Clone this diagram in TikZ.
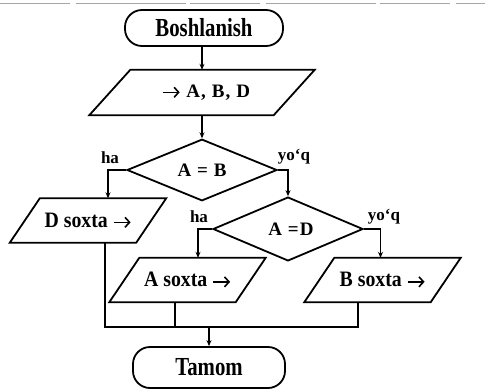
\documentclass[tikz,border=0pt]{standalone}
\usepackage{fontspec}
\setmainfont{Liberation Serif}
\newfontfamily\termfont{Liberation Serif}[FakeStretch=0.8]
\newfontfamily\outfont{Liberation Serif}[FakeStretch=0.9]
\newfontfamily\wideserif{Liberation Serif}[LetterSpace=6]
\usetikzlibrary{shapes.geometric,arrows.meta,calc}
\newcommand{\txtArrow}{\tikz[baseline={(0pt,-5pt)}]\draw[line width=1.6pt,-{Straight Barb[length=4.5pt,width=10pt,line width=1.6pt]}] (0pt,0pt) -- (17pt,0pt);}
\begin{document}
\begin{tikzpicture}[x=1pt,y=-1pt,
  line width=1.8pt,
  term/.style={draw, rounded corners=17pt, inner sep=0pt, font=\termfont\bfseries\fontsize{26}{28}\selectfont},
  pgbox/.style={minimum width=126pt, minimum height=44pt, inner sep=0pt, font=\outfont\bfseries\fontsize{22}{24}\selectfont},
  inbox/.style={minimum width=184pt, minimum height=45pt, inner sep=0pt, font=\wideserif\bfseries\fontsize{19}{21}\selectfont},
  dec/.style={draw, diamond, inner sep=0pt, minimum width=150pt, minimum height=60pt, font=\wideserif\bfseries\fontsize{19}{21}\selectfont},
  lbl/.style={inner sep=0pt, font=\bfseries\fontsize{17}{19}\selectfont},
  arr/.style={-{Stealth[length=6pt,width=5pt]}, line width=1.5pt},
  scanline/.style={draw=gray!70, line width=1pt, dash pattern=on 70pt off 6pt on 110pt off 4pt}
]
\useasboundingbox (0,0) rectangle (485,391);
\draw[scanline] (0,3) -- (485,3);

% terminals
\node[term, minimum width=158pt, minimum height=36pt] (start) at (204,28) {Boshlanish};
\node[term, minimum width=152pt, minimum height=41pt] (end) at (209,367.5) {Tamom};

% input parallelogram
\node[inbox] (in) at (202,92.5) {\hspace{8pt}\txtArrow\ A, B, D};
\draw ([xshift=-20.5pt]in.south west) -- ([xshift=-20.5pt]in.south east) -- ([xshift=20.5pt]in.north east) -- ([xshift=20.5pt]in.north west) -- cycle;

% decisions
\node[dec] (d1) at (202,170) {A = B};
\node[dec, minimum height=62pt] (d2) at (288,229) {\hspace{6pt}A =D};

% output parallelograms
\node[pgbox] (D) at (88,220.5) {D soxta \txtArrow};
\draw ([xshift=-15pt]D.south west) -- ([xshift=-15pt]D.south east) -- ([xshift=15pt]D.north east) -- ([xshift=15pt]D.north west) -- cycle;
\node[pgbox] (A) at (187.5,280) {A soxta \txtArrow};
\draw ([xshift=-15pt]A.south west) -- ([xshift=-15pt]A.south east) -- ([xshift=15pt]A.north east) -- ([xshift=15pt]A.north west) -- cycle;
\node[pgbox] (B) at (382.5,280) {B soxta \txtArrow};
\draw ([xshift=-15pt]B.south west) -- ([xshift=-15pt]B.south east) -- ([xshift=15pt]B.north east) -- ([xshift=15pt]B.north west) -- cycle;

% labels
\node[lbl] (l1) at (110,158) {ha};
\node[lbl] (l2) at (294,157) {yo‘q};
\node[lbl] (l3) at (199,217) {ha};
\node[lbl] (l4) at (384,217) {yo‘q};

% connectors
\draw[arr] (start.south -| d1.north) -- (in.north -| d1.north);
\draw[arr] (in.south -| d1.north) -- (d1.north);
\draw[arr] (d1.west) -| ([xshift=20pt]D.north);
\draw[arr] (d1.east) -| (d2.north);
\draw[arr] (d2.west) -| ([xshift=10.5pt]A.north);
\draw[arr] (d2.east) -| ([xshift=-2pt]B.north);

\coordinate (m) at (210,327);
\draw ([xshift=17pt]D.south) |- ([xshift=-24.5pt]B.south |- m) -- ([xshift=-24.5pt]B.south);
\draw ([xshift=-12.5pt]A.south) -- ([xshift=-12.5pt]A.south |- m);
\draw[arr] (m -| end.north) -- (end.north);
\end{tikzpicture}
\end{document}
